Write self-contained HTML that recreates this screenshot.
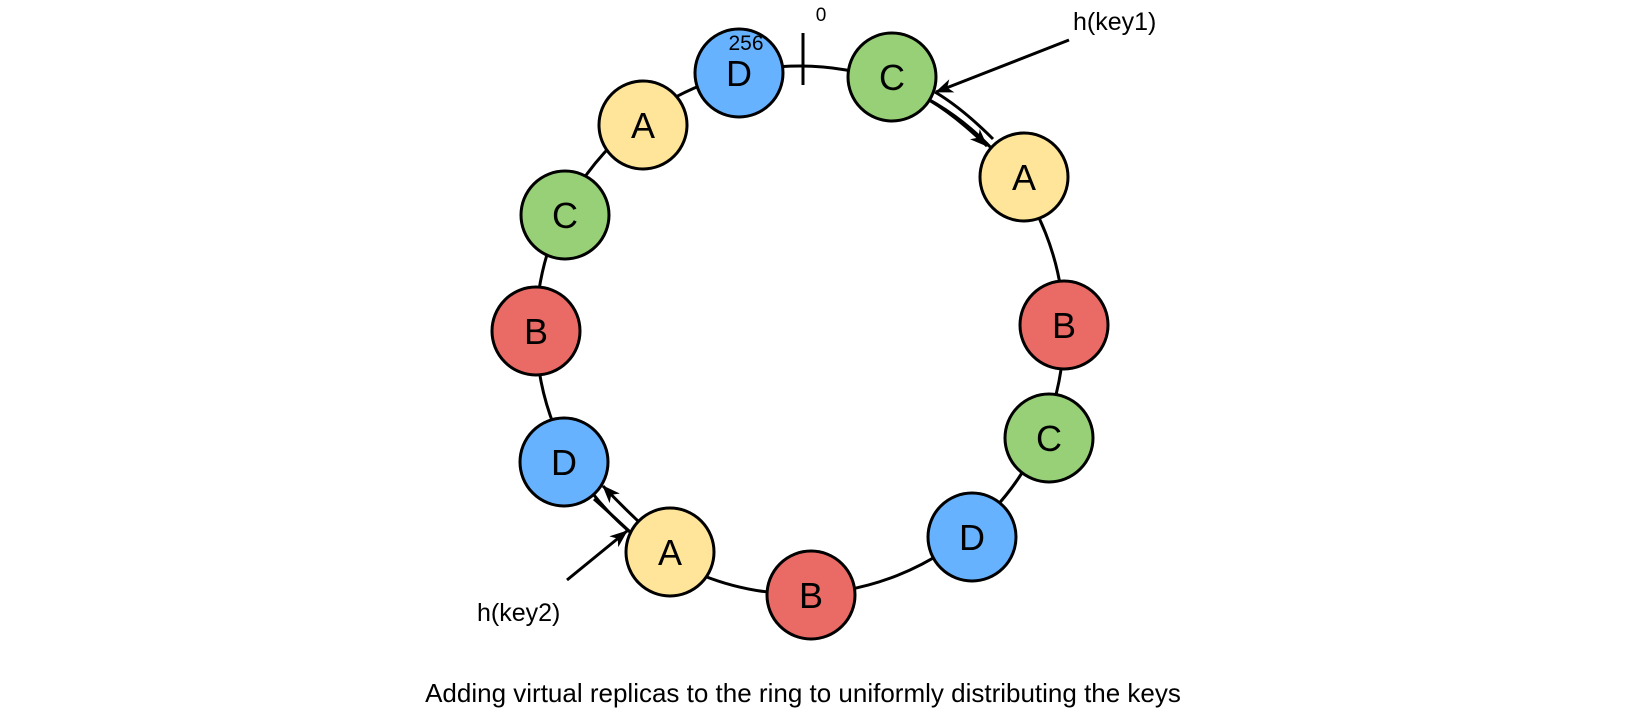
<!DOCTYPE html>
<html><head><style>
body{margin:0;background:#fff;}
svg{display:block;font-family:"Liberation Sans",Arial,sans-serif;}
</style></head><body>
<svg width="1632" height="718" viewBox="0 0 1632 718" xmlns="http://www.w3.org/2000/svg">
<defs>
<marker id="ar" markerWidth="18" markerHeight="14" refX="17" refY="7" orient="auto" markerUnits="userSpaceOnUse">
<path d="M0,0 L18,7 L0,14 L5,7 Z" fill="#000"/>
</marker>
</defs>
<circle cx="800" cy="330" r="264" fill="none" stroke="#000" stroke-width="3"/>
<line x1="803" y1="33" x2="803" y2="85" stroke="#000" stroke-width="3"/>
<text x="821" y="21" font-size="19" text-anchor="middle">0</text>
<path d="M935,92 Q962,108 993,139" fill="none" stroke="#000" stroke-width="3"/>
<path d="M929,100 Q956,116 987,146" fill="none" stroke="#000" stroke-width="3" marker-end="url(#ar)"/>
<path d="M629,531 Q611,514 594,499" fill="none" stroke="#000" stroke-width="3"/>
<path d="M638,521 Q620,504 603,486" fill="none" stroke="#000" stroke-width="3" marker-end="url(#ar)"/>
<line x1="1069" y1="40" x2="936" y2="92" stroke="#000" stroke-width="3" marker-end="url(#ar)"/>
<line x1="567" y1="580" x2="627" y2="531" stroke="#000" stroke-width="3" marker-end="url(#ar)"/>
<g stroke="#000" stroke-width="3">
<circle cx="739" cy="73" r="44" fill="#66b2ff"/>
<circle cx="892" cy="77" r="44" fill="#97d077"/>
<circle cx="1024" cy="177" r="44" fill="#ffe599"/>
<circle cx="1064" cy="325" r="44" fill="#ea6b66"/>
<circle cx="1049" cy="438" r="44" fill="#97d077"/>
<circle cx="972" cy="537" r="44" fill="#66b2ff"/>
<circle cx="811" cy="595" r="44" fill="#ea6b66"/>
<circle cx="670" cy="552" r="44" fill="#ffe599"/>
<circle cx="564" cy="462" r="44" fill="#66b2ff"/>
<circle cx="536" cy="331" r="44" fill="#ea6b66"/>
<circle cx="565" cy="215" r="44" fill="#97d077"/>
<circle cx="643" cy="125" r="44" fill="#ffe599"/>
</g>
<g font-size="36" text-anchor="middle" fill="#000">
<text x="739" y="86">D</text>
<text x="892" y="90">C</text>
<text x="1024" y="190">A</text>
<text x="1064" y="338">B</text>
<text x="1049" y="451">C</text>
<text x="972" y="550">D</text>
<text x="811" y="608">B</text>
<text x="670" y="565">A</text>
<text x="564" y="475">D</text>
<text x="536" y="344">B</text>
<text x="565" y="228">C</text>
<text x="643" y="138">A</text>
</g>
<text x="746" y="50" font-size="21" text-anchor="middle">256</text>
<text x="1073" y="30" font-size="25">h(key1)</text>
<text x="477" y="621" font-size="25">h(key2)</text>
<text x="803" y="702" font-size="26" text-anchor="middle">Adding virtual replicas to the ring to uniformly distributing the keys</text>
</svg>
</body></html>
